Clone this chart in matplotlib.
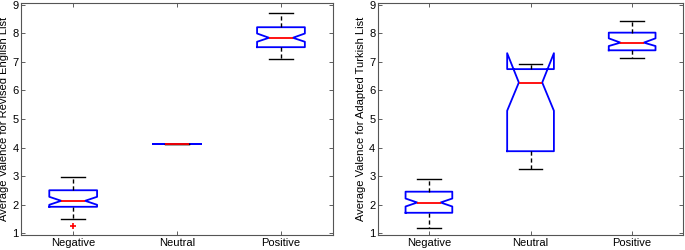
import matplotlib
matplotlib.use('Agg')
import matplotlib.pyplot as plt

plt.rcParams['font.family'] = ['Liberation Sans', 'DejaVu Sans']

categories = ['Negative', 'Neutral', 'Positive']

# English list: whislo, q1, cilo, med, cihi, q3, whishi
eng_whislo = [1.49, 4.14, 7.10]
eng_q1 = [1.92, 4.14, 7.52]
eng_cilo = [1.99, 4.14, 7.71]
eng_med = [2.13, 4.14, 7.85]
eng_cihi = [2.27, 4.14, 8.00]
eng_q3 = [2.50, 4.14, 8.22]
eng_whishi = [2.97, 4.14, 8.73]
eng_fliers = [[1.25], [], []]

# Turkish list
tur_whislo = [1.16, 3.24, 7.15]
tur_q1 = [1.71, 3.87, 7.41]
tur_cilo = [1.93, 5.29, 7.56]
tur_med = [2.07, 6.28, 7.68]
tur_cihi = [2.21, 7.31, 7.83]
tur_q3 = [2.45, 6.75, 8.03]
tur_whishi = [2.88, 6.94, 8.44]
tur_fliers = [[], [], []]


def make_stats(whislo, q1, cilo, med, cihi, q3, whishi, fliers):
    stats = []
    for i in range(len(med)):
        stats.append(dict(whislo=whislo[i], q1=q1[i], cilo=cilo[i], med=med[i],
                          cihi=cihi[i], q3=q3[i], whishi=whishi[i], fliers=fliers[i]))
    return stats


def draw_panel(ax, stats, ylabel):
    ax.bxp(stats, positions=[1, 2, 3], widths=0.46, shownotches=True,
           boxprops=dict(color='#0000ff', linewidth=1.3),
           medianprops=dict(color='#ff0000', linewidth=1.3),
           whiskerprops=dict(color='black', linestyle=(0, (3, 2)), linewidth=1.0),
           capprops=dict(color='black', linewidth=1.0),
           flierprops=dict(marker='+', markeredgecolor='#ff0000', markersize=4,
                           markeredgewidth=1.2))
    ax.set_xlim(0.5, 3.5)
    ax.set_ylim(0.93, 9.07)
    ax.set_yticks(range(1, 10))
    ax.set_xticks([1, 2, 3])
    ax.set_xticklabels(categories)
    ax.set_ylabel(ylabel, fontsize=8, labelpad=2)
    ax.tick_params(direction='in', top=True, right=True, labelsize=8,
                   length=3, width=0.6, color='#444444', pad=2)
    for s in ax.spines.values():
        s.set_color('#555555')
        s.set_linewidth(0.8)


fig = plt.figure(figsize=(6.85, 2.5), dpi=100)
ax1 = fig.add_axes([0.031, 0.06, 0.455, 0.928])
ax2 = fig.add_axes([0.552, 0.06, 0.445, 0.928])

draw_panel(ax1, make_stats(eng_whislo, eng_q1, eng_cilo, eng_med, eng_cihi,
                           eng_q3, eng_whishi, eng_fliers),
           'Average Valence for Revised English List')
draw_panel(ax2, make_stats(tur_whislo, tur_q1, tur_cilo, tur_med, tur_cihi,
                           tur_q3, tur_whishi, tur_fliers),
           'Average Valence for Adapted Turkish List')

fig.savefig('out.png', dpi=100)
